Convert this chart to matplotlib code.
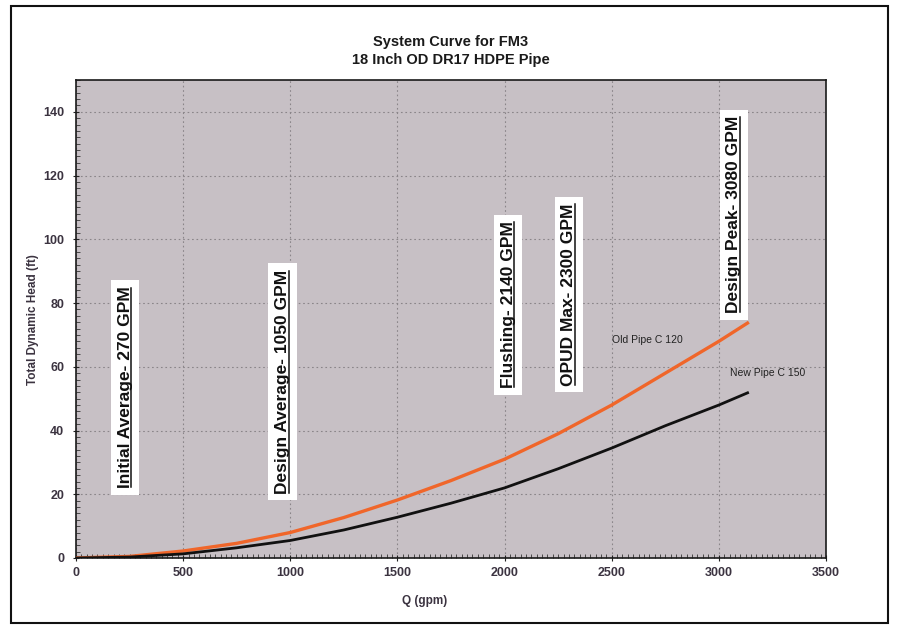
import numpy as np
import matplotlib
matplotlib.use('Agg')
from matplotlib import pyplot as plt
from matplotlib.lines import Line2D
from matplotlib.patches import Rectangle
from matplotlib.ticker import MultipleLocator

# flow (gpm) and total dynamic head (ft) for both pipe conditions
flow = [0, 250, 500, 750, 1000, 1250, 1500, 1750, 2000, 2250, 2500, 2750, 3000, 3140]
old_pipe_c120 = [0, 0.5, 2.2, 4.6, 8.0, 12.7, 18.2, 24.3, 31.0, 39.0, 48.0, 58.0, 68.0, 74.0]
new_pipe_c150 = [0, 0.3, 1.3, 3.2, 5.5, 8.8, 12.8, 17.2, 22.0, 28.0, 34.5, 41.5, 48.0, 52.0]

# flow condition callouts: text, x (gpm), y (ft) of label centre
callout_text = ['Initial Average- 270 GPM', 'Design Average- 1050 GPM', 'Flushing- 2140 GPM',
                'OPUD Max- 2300 GPM', 'Design Peak- 3080 GPM']
callout_x = [229, 964, 2016, 2300, 3070]
callout_y = [53.5, 55.3, 79.5, 82.7, 107.7]

narrow = ['Liberation Sans Narrow', 'Liberation Sans', 'DejaVu Sans']
tick_col = '#3b3340'

fig = plt.figure(figsize=(9, 6.25), dpi=100)
ax = fig.add_axes([76 / 900, 1 - 558 / 625, 750 / 900, 478 / 625])
ax.set_facecolor('#c7c0c5')

ax.plot(flow, old_pipe_c120, color='#f0662a', lw=2.4, solid_capstyle='butt', zorder=4)
ax.plot(flow, new_pipe_c150, color='#111111', lw=2.0, solid_capstyle='butt', zorder=4)

ax.set_xlim(0, 3500)
ax.set_ylim(0, 150)
ax.xaxis.set_major_locator(MultipleLocator(500))
ax.yaxis.set_major_locator(MultipleLocator(20))
ax.xaxis.set_minor_locator(MultipleLocator(25))
ax.yaxis.set_minor_locator(MultipleLocator(2))
ax.grid(True, which='major', color='#8a8589', ls=(0, (1.5, 2.5)), lw=0.8)
ax.tick_params(which='major', direction='inout', length=5, width=0.8, colors='#222222',
               labelcolor=tick_col, labelsize=9, pad=4)
ax.tick_params(axis='y', which='major', pad=6)
ax.tick_params(which='minor', direction='in', length=3, width=0.6, colors='#333333')
for lab in ax.get_xticklabels() + ax.get_yticklabels():
    lab.set_family(narrow)
    lab.set_fontweight('bold')
for sp in ax.spines.values():
    sp.set_color('#1a1a1a')
    sp.set_linewidth(1.2)

fig.text(451 / 900, 1 - 51 / 625, 'System Curve for FM3\n18 Inch OD DR17 HDPE Pipe',
         ha='center', va='center', fontsize=10.5, fontweight='bold', family=narrow,
         color='#1a1a1a', linespacing=1.3)
fig.text(33 / 900, 1 - 320 / 625, 'Total Dynamic Head (ft)', rotation=90, ha='center',
         va='center', fontsize=8.5, fontweight='bold', family=narrow, color=tick_col)
fig.text(425 / 900, 1 - 601 / 625, 'Q (gpm)', ha='center', va='center', fontsize=8.5,
         fontweight='bold', family=narrow, color=tick_col)

ax.text(2665, 68.3, 'Old Pipe C 120', ha='center', va='center', fontsize=7.5,
        family=narrow, color='#222222', zorder=5)
ax.text(3052, 57.9, 'New Pipe C 150', ha='left', va='center', fontsize=7.5,
        family=narrow, color='#222222', zorder=5, clip_on=False)

labels = []
for txt, x, y in zip(callout_text, callout_x, callout_y):
    t = ax.text(x, y, txt, rotation=90, ha='center', va='center', fontsize=12.5,
                fontweight='bold', family=['Liberation Sans', 'DejaVu Sans'], color='#111111',
                zorder=6, bbox=dict(boxstyle='square,pad=0.38', fc='white', ec='none'))
    labels.append(t)

# underline each callout (rotated text, so the line runs along the right side)
fig.canvas.draw()
renderer = fig.canvas.get_renderer()
inv = fig.transFigure.inverted()
for t in labels:
    bb = t.get_window_extent(renderer)
    x0, y0 = inv.transform((bb.x1 - 1.5, bb.y0 + 1))
    x1, y1 = inv.transform((bb.x1 - 1.5, bb.y1 - 1))
    fig.add_artist(Line2D([x0, x1], [y0, y1], color='#111111', lw=1.1, zorder=7))

# outer frame around the chart
fig.add_artist(Rectangle((11 / 900, 1 - 623 / 625), 877 / 900, 617 / 625,
                         transform=fig.transFigure, fill=False, ec='#111111', lw=1.5))

fig.savefig('out.png', dpi=100, facecolor='white')
